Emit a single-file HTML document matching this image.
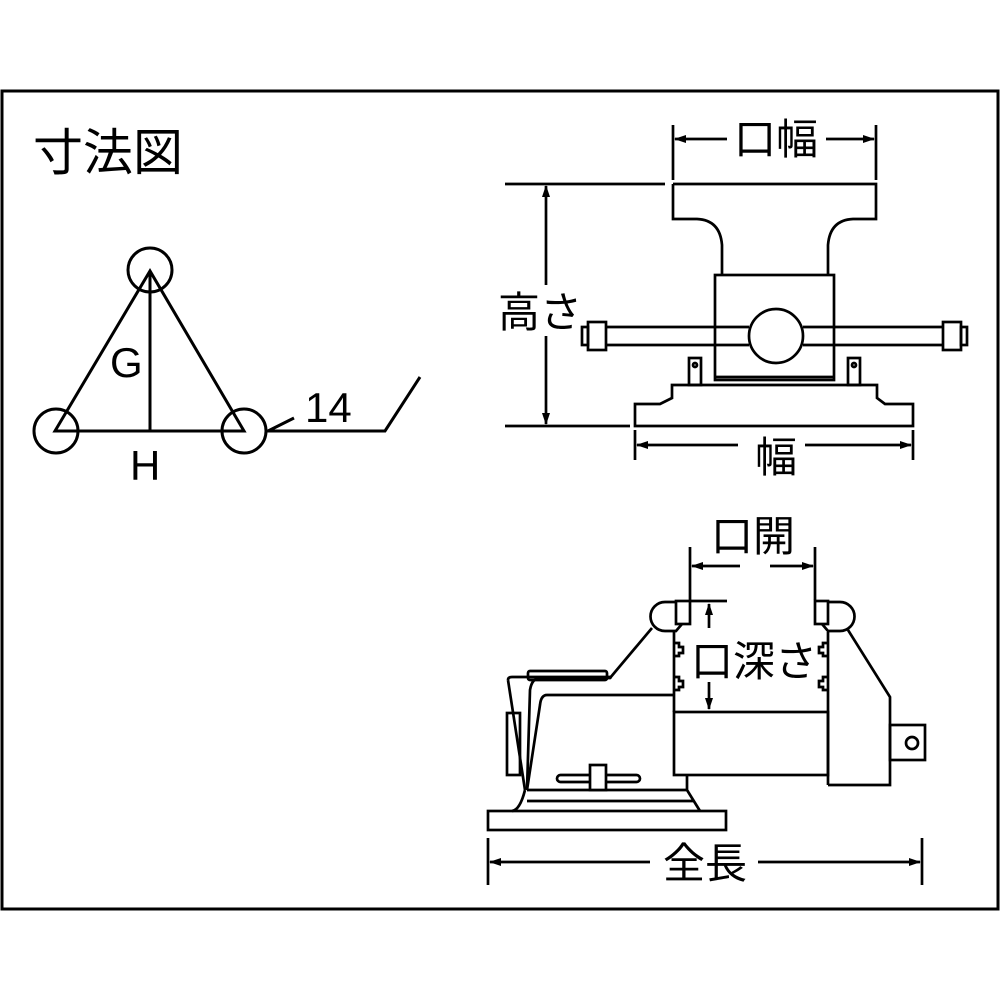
<!DOCTYPE html>
<html><head><meta charset="utf-8"><style>
html,body{margin:0;padding:0;background:#fff}
svg{display:block}
text{font-family:"Liberation Sans","Noto Sans CJK JP",sans-serif;fill:#000}
</style></head><body>
<svg width="1000" height="1000" viewBox="0 0 1000 1000" xmlns="http://www.w3.org/2000/svg">
<defs>
<marker id="a" markerWidth="12" markerHeight="8" refX="11" refY="4" orient="auto" markerUnits="userSpaceOnUse"><path d="M0,0 L12,4 L0,8 Z" fill="#000"/></marker>
</defs>
<g fill="none" stroke="#000" stroke-width="3">
<rect x="2" y="91" width="996" height="818"/>
<circle cx="150" cy="270" r="22"/><circle cx="56" cy="431" r="22"/><circle cx="244" cy="431" r="22"/>
<path d="M55,431 L150,271 L244,431 Z M150,271 L150,431"/>
<path d="M266,431 L385,431 L420,377 M268,431 L294,418"/>
</g>
<g fill="none" stroke="#000" stroke-width="2.7">
<path d="M673,125 V180 M876,125 V180"/>
<path d="M727,139 H675" marker-end="url(#a)"/><path d="M826,139 H874" marker-end="url(#a)"/>
<path d="M505,184 H665 M505,426 H630"/>
<path d="M546,285 V186" marker-end="url(#a)"/><path d="M546,336 V424" marker-end="url(#a)"/>
<path d="M673,184 H876 V219 H853 Q830,220 828,245 V275 M673,184 V219 H697 Q720,220 722,245 V275"/>
<rect x="715" y="275" width="119" height="105"/>
<path d="M715,377 H834"/>
<path d="M606,327 H749 M606,345 H749 M803,327 H943 M803,345 H943"/>
<circle cx="776" cy="336" r="27" fill="#fff"/>
<rect x="588" y="322" width="18" height="28"/><rect x="582" y="327" width="6" height="18"/>
<rect x="943" y="322" width="18" height="28"/><rect x="961" y="327" width="6" height="18"/>
<rect x="689" y="358" width="12" height="27"/><circle cx="695" cy="365" r="2"/>
<rect x="848" y="358" width="12" height="27"/><circle cx="854" cy="365" r="2"/>
<path d="M672,385 H877 V398 L885,404 H913 V426 H635 V404 H660 L672,398 Z"/>
<path d="M635,430 V460 M913,430 V460"/>
<path d="M738,445 H637" marker-end="url(#a)"/><path d="M805,445 H911" marker-end="url(#a)"/>
<path d="M690,547 V600 M815,547 V600"/>
<path d="M740,566 H692" marker-end="url(#a)"/><path d="M770,566 H813" marker-end="url(#a)"/>
<rect x="676" y="601" width="14" height="23"/><rect x="815" y="601" width="13" height="23"/>
<path d="M676,602 H665 A14,14 0 0 0 665,631 H676 L682,624"/>
<path d="M828,602 H840 A14,14 0 0 1 840,631 H828 L822,624"/>
<path d="M690,601 H727"/>
<path d="M709,628 V604" marker-end="url(#a)"/><path d="M709,682 V709" marker-end="url(#a)"/>
<path d="M674,632 V712 M674,643 h5 v4 h4 v6 h-4 v3 h-5 M674,677 h5 v4 h4 v6 h-4 v3 h-5"/>
<path d="M828,632 V785 M828,643 h-5 v4 h-4 v6 h4 v3 h5 M828,677 h-5 v4 h-4 v6 h4 v3 h5"/>
<rect x="674" y="712" width="154" height="63"/>
<path d="M848,630 L890,697 V785 H828"/>
<rect x="890" y="725" width="35" height="35"/><circle cx="912" cy="743" r="6"/>
<path d="M652,628 L615,672 L610,678 H540 Q532,678 530,690 L527,790"/>
<path d="M674,695 H547 Q541,695 540,705 L527,790"/>
<path d="M508,680 Q508,677 512,677 H608 L612,677"/>
<path d="M508,680 L525,790"/>
<rect x="528" y="671" width="79" height="9" rx="2"/>
<rect x="507" y="713" width="13" height="62"/>
<path d="M527,790 H687 V775 M527,801 H693 M687,790 L700,811"/>
<path d="M525,790 Q520,810 512,811"/>
<rect x="488" y="811" width="238" height="19"/>
<rect x="557" y="775" width="83" height="7" rx="3.5"/>
<rect x="590" y="765" width="16" height="25" fill="#fff"/>
<path d="M488,838 V885 M922,838 V885"/>
<path d="M650,862 H490" marker-end="url(#a)"/><path d="M758,862 H920" marker-end="url(#a)"/>
</g>
<text x="33" y="170" font-size="50">寸法図</text>
<text x="110" y="377" font-size="42">G</text>
<text x="130" y="480" font-size="42">H</text>
<text x="305" y="422" font-size="42">14</text>
<text x="776" y="154" font-size="42" text-anchor="middle">口幅</text>
<text x="540" y="327" font-size="42" text-anchor="middle">高さ</text>
<text x="776" y="472" font-size="42" text-anchor="middle">幅</text>
<text x="753" y="551" font-size="42" text-anchor="middle">口開</text>
<text x="754" y="676" font-size="42" text-anchor="middle">口深さ</text>
<text x="705" y="878" font-size="42" text-anchor="middle">全長</text>
</svg>
</body></html>
